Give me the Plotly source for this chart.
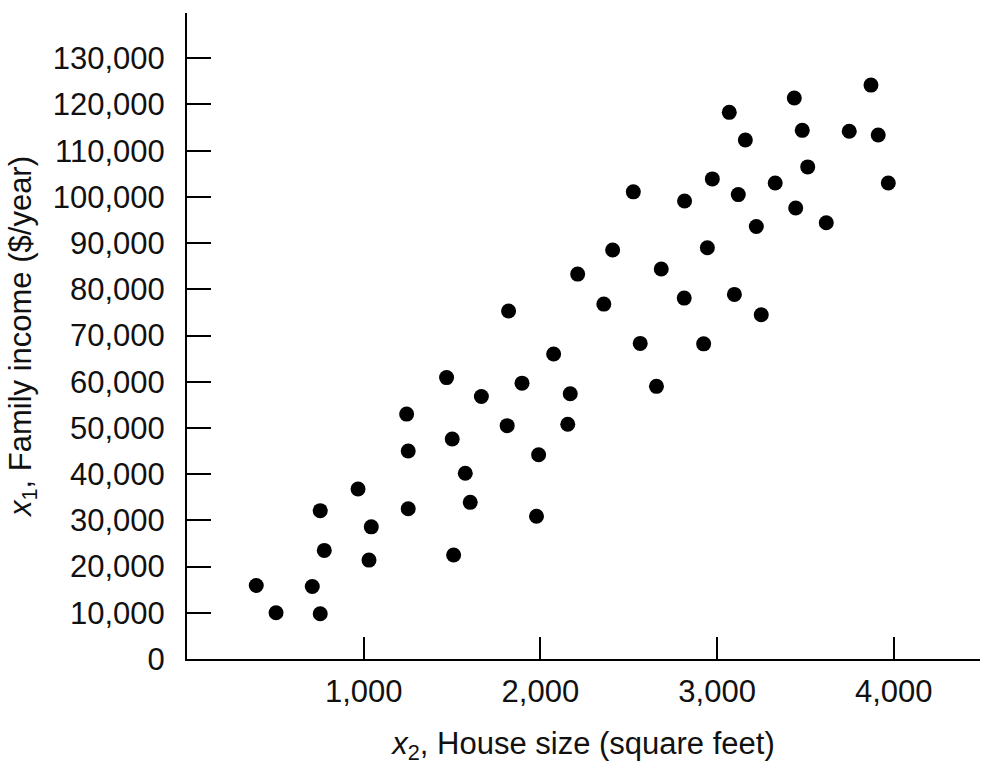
import plotly.graph_objects as go

# House size (square feet) and family income ($/year) for each household
house_size = [392, 504, 709, 754, 754, 777, 968, 1043, 1030, 1243, 1252, 1252,
              1469, 1501, 1575, 1603, 1509, 1666, 1820, 1812, 1896, 1990, 1978,
              2075, 2155, 2169, 2211, 2359, 2409, 2526, 2565, 2657, 2684, 2814,
              2816, 2945, 2924, 2973, 3069, 3098, 3120, 3160, 3222, 3250, 3329,
              3437, 3445, 3482, 3513, 3618, 3748, 3871, 3912, 3969]
family_income = [15900, 10000, 15700, 9800, 32100, 23500, 36800, 28600, 21400,
                 53000, 45000, 32500, 60900, 47600, 40200, 33900, 22500, 56800,
                 75300, 50500, 59700, 44200, 30900, 66000, 50800, 57400, 83300,
                 76800, 88500, 101100, 68300, 59000, 84400, 78100, 99100, 89000,
                 68200, 103900, 118300, 78900, 100500, 112300, 93600, 74500,
                 103000, 121400, 97600, 114400, 106500, 94400, 114200, 124200,
                 113400, 103000]

x_ticks = [1000, 2000, 3000, 4000]
y_ticks = list(range(0, 130001, 10000))

font_family = "Liberation Sans, Arial, sans-serif"

fig = go.Figure(
    go.Scatter(
        x=house_size,
        y=family_income,
        mode="markers",
        marker=dict(size=15, color="black", line=dict(width=0)),
        showlegend=False,
    )
)

axis_common = dict(
    showgrid=False,
    zeroline=False,
    showline=True,
    linecolor="black",
    linewidth=2,
    ticks="inside",
    tickcolor="black",
    tickwidth=1.5,
    tickformat=",d",
    tickfont=dict(family=font_family, size=31, color="#111"),
)

fig.update_xaxes(
    **axis_common,
    range=[0, 4488],
    tickvals=x_ticks,
    ticklen=22,
    ticklabelstandoff=4,
    title=dict(
        text="<i>x</i><sub>2</sub>, House size (square feet)",
        font=dict(family=font_family, size=31, color="#111"),
        standoff=24,
    ),
)
fig.update_yaxes(
    **axis_common,
    range=[0, 139800],
    tickvals=y_ticks,
    ticklen=24,
    ticklabelstandoff=14,
    title=dict(
        text="<i>x</i><sub>1</sub>, Family income ($/year)",
        font=dict(family=font_family, size=31, color="#111"),
        standoff=12,
    ),
)

fig.update_layout(
    width=982,
    height=766,
    margin=dict(l=187, r=2, t=13, b=107),
    paper_bgcolor="white",
    plot_bgcolor="white",
)

fig.write_html("out.html")
